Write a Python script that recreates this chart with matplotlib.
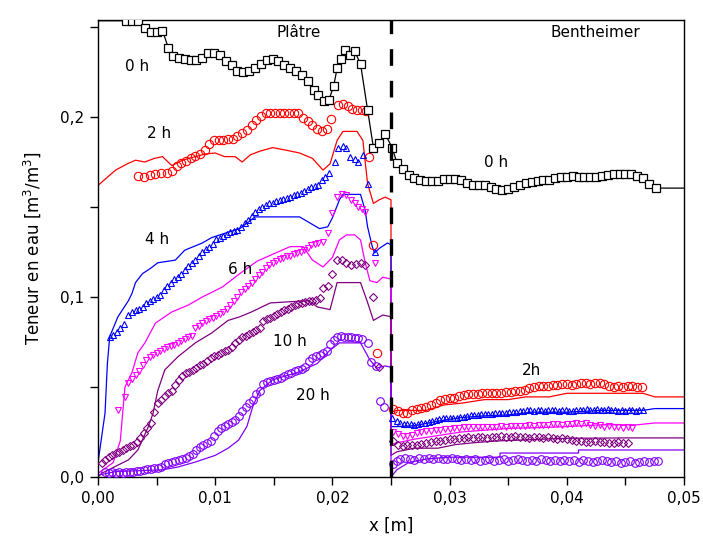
import numpy as np
import matplotlib
matplotlib.use('Agg')
import matplotlib.pyplot as plt
from matplotlib.ticker import FuncFormatter

# ---- 0 h (mesure) : carrés noirs, ligne reliant les points ----
x0 = [0.0000, 0.0024, 0.0029, 0.0034, 0.0040, 0.0045, 0.0050, 0.0055, 0.0060, 0.0064,
      0.0069, 0.0074, 0.0079, 0.0084, 0.0089, 0.0094, 0.0099, 0.0104, 0.0109, 0.0114,
      0.0119, 0.0124, 0.0129, 0.0134, 0.0139, 0.0144, 0.0149, 0.0154, 0.0159, 0.0164,
      0.0169, 0.0174, 0.0179, 0.0184, 0.0188, 0.0193, 0.0197, 0.0201, 0.0204, 0.0207,
      0.0211, 0.0215, 0.0219, 0.0224, 0.0230, 0.0235, 0.0240, 0.0245, 0.0251,
      0.0255, 0.0260, 0.0265, 0.0270, 0.0275, 0.0280, 0.0285, 0.0290, 0.0295, 0.0300,
      0.0305, 0.0310, 0.0315, 0.0320, 0.0325, 0.0330, 0.0335, 0.0340, 0.0345, 0.0350,
      0.0355, 0.0360, 0.0365, 0.0370, 0.0375, 0.0380, 0.0385, 0.0390, 0.0395, 0.0400,
      0.0405, 0.0410, 0.0415, 0.0420, 0.0425, 0.0430, 0.0435, 0.0440, 0.0445, 0.0450,
      0.0455, 0.0460, 0.0465, 0.0470, 0.0476, 0.0500]
y0 = [0.2535, 0.2535, 0.2535, 0.2535, 0.2495, 0.2475, 0.2475, 0.2480, 0.2385, 0.2340,
      0.2330, 0.2320, 0.2315, 0.2315, 0.2330, 0.2355, 0.2355, 0.2345, 0.2310, 0.2290,
      0.2255, 0.2250, 0.2255, 0.2270, 0.2295, 0.2315, 0.2320, 0.2310, 0.2290, 0.2275,
      0.2255, 0.2235, 0.2200, 0.2150, 0.2120, 0.2090, 0.2095, 0.2170, 0.2270, 0.2325,
      0.2370, 0.2345, 0.2365, 0.2295, 0.2040, 0.1830, 0.1855, 0.1905, 0.1830,
      0.1745, 0.1710, 0.1680, 0.1660, 0.1650, 0.1645, 0.1645, 0.1645, 0.1655, 0.1655,
      0.1655, 0.1650, 0.1635, 0.1625, 0.1620, 0.1620, 0.1610, 0.1600, 0.1595, 0.1600,
      0.1610, 0.1625, 0.1635, 0.1640, 0.1645, 0.1650, 0.1650, 0.1660, 0.1665, 0.1665,
      0.1670, 0.1665, 0.1665, 0.1665, 0.1665, 0.1670, 0.1680, 0.1685, 0.1685, 0.1685,
      0.1685, 0.1670, 0.1660, 0.1630, 0.1605, 0.1605]

# ---- 2 h : cercles rouges (mesure) + ligne rouge (simulation) ----
x2m = [0.0034, 0.0039, 0.0044, 0.0049, 0.0054, 0.0059, 0.0063, 0.0067, 0.0071, 0.0075,
       0.0079, 0.0083, 0.0087, 0.0091, 0.0095, 0.0099, 0.0103, 0.0107, 0.0111, 0.0115,
       0.0119, 0.0123, 0.0127, 0.0131, 0.0135, 0.0139, 0.0143, 0.0147, 0.0151, 0.0155,
       0.0159, 0.0163, 0.0167, 0.0171, 0.0175, 0.0179, 0.0183, 0.0187, 0.0191, 0.0195,
       0.0199, 0.0205, 0.0209, 0.0213, 0.0217, 0.0221, 0.0225, 0.0229, 0.0231, 0.0235,
       0.0238,
       0.0252, 0.0256, 0.0260, 0.0264, 0.0268, 0.0272, 0.0276, 0.0280, 0.0284, 0.0288,
       0.0292, 0.0296, 0.0300, 0.0304, 0.0308, 0.0312, 0.0316, 0.0320, 0.0324, 0.0328,
       0.0332, 0.0336, 0.0340, 0.0344, 0.0348, 0.0352, 0.0356, 0.0360, 0.0364, 0.0368,
       0.0372, 0.0376, 0.0380, 0.0384, 0.0388, 0.0392, 0.0396, 0.0400, 0.0404, 0.0408,
       0.0412, 0.0416, 0.0420, 0.0424, 0.0428, 0.0432, 0.0436, 0.0440, 0.0444, 0.0448,
       0.0452, 0.0456, 0.0460, 0.0464]
y2m = [0.1670, 0.1665, 0.1680, 0.1685, 0.1690, 0.1690, 0.1700, 0.1730, 0.1745, 0.1755,
       0.1770, 0.1785, 0.1795, 0.1815, 0.1850, 0.1870, 0.1875, 0.1875, 0.1880, 0.1880,
       0.1895, 0.1910, 0.1930, 0.1955, 0.1985, 0.2005, 0.2020, 0.2020, 0.2020, 0.2020,
       0.2020, 0.2020, 0.2020, 0.2025, 0.1995, 0.1980, 0.1955, 0.1935, 0.1925, 0.1935,
       0.1990, 0.2065, 0.2070, 0.2060, 0.2045, 0.2040, 0.2040, 0.2035, 0.1780, 0.1290,
       0.0690,
       0.0380, 0.0365, 0.0355, 0.0355, 0.0370, 0.0380, 0.0385, 0.0390, 0.0400, 0.0410,
       0.0425, 0.0435, 0.0440, 0.0440, 0.0450, 0.0455, 0.0460, 0.0460, 0.0460, 0.0465,
       0.0465, 0.0465, 0.0465, 0.0465, 0.0470, 0.0470, 0.0475, 0.0480, 0.0485, 0.0495,
       0.0500, 0.0505, 0.0505, 0.0505, 0.0510, 0.0510, 0.0515, 0.0515, 0.0510, 0.0515,
       0.0520, 0.0520, 0.0515, 0.0520, 0.0520, 0.0515, 0.0505, 0.0500, 0.0505, 0.0500,
       0.0505, 0.0505, 0.0500, 0.0500]
x2s = [0.0000, 0.0015, 0.0025, 0.0032, 0.0040, 0.0048, 0.0055, 0.0063, 0.0072, 0.0083,
       0.0092, 0.0100, 0.0108, 0.0117, 0.0123, 0.0130, 0.0138, 0.0149, 0.0161, 0.0172,
       0.0183, 0.0192, 0.0198, 0.0204, 0.0209, 0.0221, 0.0226, 0.0230, 0.0235, 0.0240,
       0.0245, 0.0250, 0.0250, 0.0255, 0.0280, 0.0295, 0.0310, 0.0330, 0.0350, 0.0365,
       0.0385, 0.0400, 0.0445, 0.0465, 0.0475, 0.0500]
y2s = [0.1620, 0.1705, 0.1740, 0.1760, 0.1750, 0.1770, 0.1780, 0.1730, 0.1760, 0.1780,
       0.1795, 0.1800, 0.1780, 0.1780, 0.1750, 0.1790, 0.1810, 0.1830, 0.1815, 0.1800,
       0.1770, 0.1705, 0.1740, 0.1870, 0.1920, 0.1920, 0.1870, 0.1630, 0.1520, 0.1540,
       0.1555, 0.1540, 0.0360, 0.0370, 0.0370, 0.0400, 0.0410, 0.0430, 0.0430, 0.0445,
       0.0445, 0.0465, 0.0465, 0.0465, 0.0445, 0.0445]

# ---- 4 h : triangles bleus + ligne bleue ----
x4m = [0.0010, 0.0013, 0.0016, 0.0019, 0.0022, 0.0026, 0.0029, 0.0032, 0.0035, 0.0038,
       0.0041, 0.0044, 0.0047, 0.0050, 0.0053, 0.0056, 0.0059, 0.0062, 0.0065, 0.0068,
       0.0071, 0.0074, 0.0077, 0.0080, 0.0083, 0.0086, 0.0089, 0.0092, 0.0095, 0.0098,
       0.0101, 0.0104, 0.0107, 0.0110, 0.0113, 0.0116, 0.0119, 0.0122, 0.0125, 0.0128,
       0.0131, 0.0134, 0.0137, 0.0140, 0.0143, 0.0146, 0.0149, 0.0152, 0.0155, 0.0158,
       0.0161, 0.0164, 0.0167, 0.0170, 0.0173, 0.0176, 0.0179, 0.0182, 0.0185, 0.0188,
       0.0191, 0.0194, 0.0197, 0.0202, 0.0205, 0.0209, 0.0212, 0.0215, 0.0219, 0.0222,
       0.0226, 0.0230, 0.0236,
       0.0251, 0.0255, 0.0258, 0.0261, 0.0264, 0.0267, 0.0270, 0.0273, 0.0276, 0.0279,
       0.0282, 0.0285, 0.0288, 0.0291, 0.0294, 0.0297, 0.0300, 0.0303, 0.0306, 0.0309,
       0.0312, 0.0315, 0.0318, 0.0321, 0.0324, 0.0327, 0.0330, 0.0333, 0.0336, 0.0339,
       0.0342, 0.0345, 0.0348, 0.0351, 0.0354, 0.0357, 0.0360, 0.0363, 0.0366, 0.0369,
       0.0372, 0.0375, 0.0378, 0.0381, 0.0384, 0.0387, 0.0390, 0.0393, 0.0396, 0.0399,
       0.0402, 0.0405, 0.0408, 0.0411, 0.0414, 0.0417, 0.0420, 0.0423, 0.0426, 0.0429,
       0.0432, 0.0435, 0.0438, 0.0441, 0.0444, 0.0447, 0.0450, 0.0453, 0.0456, 0.0459,
       0.0462, 0.0465]
y4m = [0.0780, 0.0790, 0.0805, 0.0830, 0.0850, 0.0900, 0.0915, 0.0925, 0.0935, 0.0945,
       0.0965, 0.0980, 0.0990, 0.1000, 0.1010, 0.1040, 0.1060, 0.1080, 0.1100, 0.1110,
       0.1130, 0.1150, 0.1170, 0.1190, 0.1205, 0.1230, 0.1250, 0.1265, 0.1280, 0.1295,
       0.1320, 0.1330, 0.1340, 0.1350, 0.1360, 0.1365, 0.1370, 0.1390, 0.1410, 0.1430,
       0.1450, 0.1470, 0.1490, 0.1500, 0.1510, 0.1520, 0.1525, 0.1535, 0.1540, 0.1545,
       0.1550, 0.1555, 0.1565, 0.1575, 0.1580, 0.1590, 0.1600, 0.1610, 0.1615, 0.1625,
       0.1650, 0.1665, 0.1690, 0.1750, 0.1830, 0.1840, 0.1830, 0.1780, 0.1765, 0.1750,
       0.1790, 0.1630, 0.1250,
       0.0330, 0.0310, 0.0300, 0.0295, 0.0295, 0.0295, 0.0290, 0.0295, 0.0300, 0.0300,
       0.0305, 0.0310, 0.0315, 0.0320, 0.0325, 0.0330, 0.0325, 0.0330, 0.0330, 0.0335,
       0.0335, 0.0340, 0.0345, 0.0345, 0.0345, 0.0350, 0.0350, 0.0350, 0.0350, 0.0355,
       0.0355, 0.0355, 0.0355, 0.0360, 0.0360, 0.0360, 0.0365, 0.0365, 0.0370, 0.0370,
       0.0365, 0.0370, 0.0370, 0.0365, 0.0370, 0.0370, 0.0370, 0.0365, 0.0370, 0.0370,
       0.0365, 0.0365, 0.0370, 0.0370, 0.0370, 0.0375, 0.0370, 0.0370, 0.0375, 0.0370,
       0.0370, 0.0375, 0.0370, 0.0370, 0.0365, 0.0370, 0.0365, 0.0370, 0.0370, 0.0365,
       0.0370, 0.0370]
x4s = [0.0000, 0.0006, 0.0008, 0.0010, 0.0017, 0.0026, 0.0029, 0.0032, 0.0038, 0.0045,
       0.0051, 0.0066, 0.0074, 0.0089, 0.0097, 0.0111, 0.0121, 0.0134, 0.0172, 0.0189,
       0.0196, 0.0200, 0.0206, 0.0209, 0.0224, 0.0228, 0.0230, 0.0234, 0.0236, 0.0240,
       0.0247, 0.0250, 0.0250, 0.0255, 0.0270, 0.0290, 0.0310, 0.0330, 0.0350, 0.0370,
       0.0400, 0.0430, 0.0465, 0.0475, 0.0500]
y4s = [0.0080, 0.0355, 0.0630, 0.0780, 0.0890, 0.0980, 0.1020, 0.1080, 0.1130, 0.1160,
       0.1190, 0.1205, 0.1260, 0.1300, 0.1330, 0.1360, 0.1380, 0.1445, 0.1445, 0.1380,
       0.1390, 0.1440, 0.1540, 0.1570, 0.1570, 0.1480, 0.1390, 0.1280, 0.1245, 0.1270,
       0.1300, 0.1290, 0.0280, 0.0280, 0.0285, 0.0310, 0.0330, 0.0340, 0.0345, 0.0360,
       0.0360, 0.0370, 0.0370, 0.0380, 0.0380]

# ---- 6 h : triangles magenta + ligne magenta ----
x6m = [0.0017, 0.0023, 0.0026, 0.0029, 0.0032, 0.0035, 0.0038, 0.0041, 0.0044, 0.0047,
       0.0050, 0.0053, 0.0056, 0.0059, 0.0062, 0.0065, 0.0068, 0.0071, 0.0074, 0.0077,
       0.0080, 0.0083, 0.0086, 0.0089, 0.0092, 0.0095, 0.0098, 0.0101, 0.0104, 0.0107,
       0.0110, 0.0113, 0.0116, 0.0119, 0.0122, 0.0125, 0.0128, 0.0131, 0.0134, 0.0137,
       0.0140, 0.0143, 0.0146, 0.0149, 0.0152, 0.0155, 0.0158, 0.0161, 0.0164, 0.0167,
       0.0170, 0.0173, 0.0176, 0.0179, 0.0182, 0.0185, 0.0188, 0.0192, 0.0196, 0.0200,
       0.0204, 0.0208, 0.0212, 0.0216, 0.0219, 0.0222, 0.0225, 0.0228, 0.0236,
       0.0252, 0.0256, 0.0260, 0.0264, 0.0268, 0.0272, 0.0276, 0.0280, 0.0284, 0.0288,
       0.0292, 0.0296, 0.0300, 0.0304, 0.0308, 0.0312, 0.0316, 0.0320, 0.0324, 0.0328,
       0.0332, 0.0336, 0.0340, 0.0344, 0.0348, 0.0352, 0.0356, 0.0360, 0.0364, 0.0368,
       0.0372, 0.0376, 0.0380, 0.0384, 0.0388, 0.0392, 0.0396, 0.0400, 0.0404, 0.0408,
       0.0412, 0.0416, 0.0420, 0.0424, 0.0428, 0.0432, 0.0436, 0.0440, 0.0444, 0.0448,
       0.0452, 0.0456]
y6m = [0.0370, 0.0445, 0.0520, 0.0545, 0.0565, 0.0590, 0.0620, 0.0650, 0.0665, 0.0680,
       0.0690, 0.0700, 0.0710, 0.0720, 0.0725, 0.0735, 0.0745, 0.0755, 0.0765, 0.0775,
       0.0785, 0.0825, 0.0840, 0.0855, 0.0865, 0.0875, 0.0885, 0.0895, 0.0905, 0.0915,
       0.0935, 0.0955, 0.0980, 0.1000, 0.1025, 0.1045, 0.1060, 0.1080, 0.1100, 0.1120,
       0.1140, 0.1160, 0.1175, 0.1190, 0.1200, 0.1210, 0.1215, 0.1225, 0.1230, 0.1240,
       0.1245, 0.1250, 0.1260, 0.1275, 0.1290, 0.1295, 0.1300, 0.1305, 0.1355, 0.1465,
       0.1555, 0.1570, 0.1565, 0.1540, 0.1520, 0.1500, 0.1490, 0.1470, 0.1190,
       0.0250, 0.0240, 0.0230, 0.0225, 0.0235, 0.0245, 0.0250, 0.0255, 0.0255, 0.0260,
       0.0260, 0.0265, 0.0265, 0.0270, 0.0270, 0.0275, 0.0275, 0.0280, 0.0280, 0.0280,
       0.0280, 0.0280, 0.0280, 0.0285, 0.0280, 0.0285, 0.0285, 0.0285, 0.0285, 0.0290,
       0.0285, 0.0290, 0.0290, 0.0290, 0.0295, 0.0295, 0.0290, 0.0295, 0.0295, 0.0300,
       0.0295, 0.0300, 0.0290, 0.0285, 0.0290, 0.0280, 0.0285, 0.0275, 0.0280, 0.0270,
       0.0275, 0.0270]
x6s = [0.0000, 0.0013, 0.0019, 0.0023, 0.0029, 0.0034, 0.0040, 0.0049, 0.0063, 0.0077,
       0.0089, 0.0106, 0.0115, 0.0121, 0.0136, 0.0150, 0.0164, 0.0175, 0.0183, 0.0192,
       0.0200, 0.0206, 0.0212, 0.0219, 0.0224, 0.0228, 0.0232, 0.0238, 0.0243, 0.0250,
       0.0250, 0.0255, 0.0270, 0.0290, 0.0310, 0.0330, 0.0350, 0.0380, 0.0400, 0.0430,
       0.0460, 0.0475, 0.0500]
y6s = [0.0020, 0.0080, 0.0200, 0.0500, 0.0580, 0.0690, 0.0745, 0.0855, 0.0917, 0.0955,
       0.1000, 0.1055, 0.1100, 0.1130, 0.1200, 0.1240, 0.1280, 0.1280, 0.1205, 0.1167,
       0.1220, 0.1317, 0.1345, 0.1345, 0.1317, 0.1190, 0.1090, 0.1080, 0.1110, 0.1100,
       0.0180, 0.0190, 0.0210, 0.0230, 0.0250, 0.0260, 0.0270, 0.0275, 0.0280, 0.0290,
       0.0290, 0.0300, 0.0300]

# ---- 10 h : losanges violet foncé + ligne ----
x10m = [0.0003, 0.0006, 0.0009, 0.0012, 0.0015, 0.0018, 0.0021, 0.0024, 0.0027, 0.0030,
        0.0033, 0.0036, 0.0039, 0.0042, 0.0045, 0.0048, 0.0051, 0.0054, 0.0057, 0.0060,
        0.0063, 0.0066, 0.0069, 0.0072, 0.0075, 0.0078, 0.0081, 0.0084, 0.0087, 0.0090,
        0.0093, 0.0096, 0.0099, 0.0102, 0.0105, 0.0108, 0.0111, 0.0114, 0.0117, 0.0120,
        0.0123, 0.0126, 0.0129, 0.0132, 0.0135, 0.0138, 0.0141, 0.0144, 0.0147, 0.0150,
        0.0153, 0.0156, 0.0159, 0.0162, 0.0165, 0.0168, 0.0171, 0.0174, 0.0177, 0.0180,
        0.0183, 0.0186, 0.0189, 0.0192, 0.0196, 0.0200, 0.0204, 0.0208, 0.0212, 0.0216,
        0.0220, 0.0224, 0.0228, 0.0235, 0.0240,
        0.0252, 0.0256, 0.0260, 0.0264, 0.0268, 0.0272, 0.0276, 0.0280, 0.0284, 0.0288,
        0.0292, 0.0296, 0.0300, 0.0304, 0.0308, 0.0312, 0.0316, 0.0320, 0.0324, 0.0328,
        0.0332, 0.0336, 0.0340, 0.0344, 0.0348, 0.0352, 0.0356, 0.0360, 0.0364, 0.0368,
        0.0372, 0.0376, 0.0380, 0.0384, 0.0388, 0.0392, 0.0396, 0.0400, 0.0404, 0.0408,
        0.0412, 0.0416, 0.0420, 0.0424, 0.0428, 0.0432, 0.0436, 0.0440, 0.0444, 0.0448,
        0.0452]
y10m = [0.0080, 0.0095, 0.0110, 0.0120, 0.0133, 0.0140, 0.0150, 0.0160, 0.0170, 0.0180,
        0.0195, 0.0215, 0.0245, 0.0270, 0.0300, 0.0360, 0.0410, 0.0430, 0.0450, 0.0465,
        0.0480, 0.0510, 0.0540, 0.0560, 0.0575, 0.0585, 0.0595, 0.0605, 0.0620, 0.0630,
        0.0645, 0.0660, 0.0670, 0.0680, 0.0690, 0.0700, 0.0705, 0.0720, 0.0745, 0.0760,
        0.0775, 0.0785, 0.0795, 0.0805, 0.0815, 0.0830, 0.0865, 0.0875, 0.0885, 0.0895,
        0.0905, 0.0915, 0.0925, 0.0935, 0.0945, 0.0955, 0.0960, 0.0965, 0.0970, 0.0975,
        0.0980, 0.0985, 0.0995, 0.1050, 0.1060, 0.1130, 0.1205, 0.1205, 0.1190, 0.1180,
        0.1185, 0.1190, 0.1180, 0.1000, 0.0610,
        0.0200, 0.0180, 0.0170, 0.0175, 0.0180, 0.0180, 0.0185, 0.0190, 0.0195, 0.0200,
        0.0200, 0.0205, 0.0210, 0.0210, 0.0215, 0.0215, 0.0220, 0.0215, 0.0220, 0.0220,
        0.0215, 0.0220, 0.0220, 0.0225, 0.0220, 0.0220, 0.0225, 0.0220, 0.0220, 0.0215,
        0.0220, 0.0220, 0.0215, 0.0220, 0.0215, 0.0210, 0.0215, 0.0210, 0.0205, 0.0200,
        0.0200, 0.0195, 0.0195, 0.0200, 0.0195, 0.0195, 0.0190, 0.0190, 0.0195, 0.0190,
        0.0190]
x10s = [0.0000, 0.0003, 0.0026, 0.0034, 0.0043, 0.0047, 0.0051, 0.0057, 0.0068, 0.0083,
        0.0097, 0.0111, 0.0121, 0.0131, 0.0147, 0.0180, 0.0187, 0.0198, 0.0204, 0.0210,
        0.0224, 0.0230, 0.0235, 0.0243, 0.0250, 0.0250, 0.0255, 0.0270, 0.0290, 0.0305,
        0.0320, 0.0340, 0.0360, 0.0400, 0.0450, 0.0500]
y10s = [0.0000, 0.0020, 0.0095, 0.0150, 0.0280, 0.0355, 0.0480, 0.0595, 0.0667, 0.0745,
        0.0800, 0.0870, 0.0890, 0.0917, 0.0967, 0.0980, 0.0945, 0.0930, 0.1080, 0.1080,
        0.1080, 0.0970, 0.0870, 0.0900, 0.0890, 0.0120, 0.0140, 0.0160, 0.0160, 0.0180,
        0.0190, 0.0200, 0.0205, 0.0215, 0.0217, 0.0217]

# ---- 20 h : cercles violets + ligne ----
x20m = [0.0006, 0.0009, 0.0012, 0.0015, 0.0018, 0.0021, 0.0024, 0.0027, 0.0030, 0.0033,
        0.0036, 0.0039, 0.0042, 0.0045, 0.0048, 0.0051, 0.0054, 0.0057, 0.0060, 0.0063,
        0.0066, 0.0069, 0.0072, 0.0075, 0.0078, 0.0081, 0.0084, 0.0087, 0.0090, 0.0093,
        0.0096, 0.0099, 0.0102, 0.0105, 0.0108, 0.0111, 0.0114, 0.0117, 0.0120, 0.0123,
        0.0126, 0.0129, 0.0132, 0.0135, 0.0138, 0.0141, 0.0144, 0.0147, 0.0150, 0.0153,
        0.0156, 0.0159, 0.0162, 0.0165, 0.0168, 0.0171, 0.0174, 0.0177, 0.0180, 0.0183,
        0.0186, 0.0189, 0.0192, 0.0195, 0.0198, 0.0201, 0.0204, 0.0207, 0.0210, 0.0213,
        0.0216, 0.0219, 0.0222, 0.0225, 0.0230, 0.0233, 0.0237, 0.0241, 0.0244,
        0.0252, 0.0255, 0.0258, 0.0262, 0.0266, 0.0270, 0.0274, 0.0278, 0.0282, 0.0286,
        0.0290, 0.0294, 0.0298, 0.0302, 0.0306, 0.0310, 0.0314, 0.0318, 0.0322, 0.0326,
        0.0330, 0.0334, 0.0338, 0.0342, 0.0346, 0.0350, 0.0354, 0.0358, 0.0362, 0.0366,
        0.0370, 0.0374, 0.0378, 0.0382, 0.0386, 0.0390, 0.0394, 0.0398, 0.0402, 0.0406,
        0.0410, 0.0414, 0.0418, 0.0422, 0.0426, 0.0430, 0.0434, 0.0438, 0.0442, 0.0446,
        0.0450, 0.0454, 0.0458, 0.0462, 0.0466, 0.0470, 0.0474, 0.0478]
y20m = [0.0025, 0.0020, 0.0025, 0.0020, 0.0025, 0.0020, 0.0025, 0.0025, 0.0030, 0.0035,
        0.0035, 0.0040, 0.0045, 0.0045, 0.0050, 0.0050, 0.0055, 0.0070, 0.0080, 0.0085,
        0.0090, 0.0095, 0.0100, 0.0105, 0.0115, 0.0130, 0.0150, 0.0165, 0.0180, 0.0190,
        0.0200, 0.0225, 0.0255, 0.0270, 0.0285, 0.0295, 0.0305, 0.0315, 0.0340, 0.0365,
        0.0390, 0.0410, 0.0430, 0.0460, 0.0480, 0.0515, 0.0525, 0.0535, 0.0540, 0.0545,
        0.0550, 0.0560, 0.0570, 0.0580, 0.0590, 0.0595, 0.0600, 0.0610, 0.0645, 0.0660,
        0.0670, 0.0680, 0.0690, 0.0700, 0.0740, 0.0760, 0.0780, 0.0785, 0.0780, 0.0775,
        0.0775, 0.0770, 0.0770, 0.0765, 0.0745, 0.0640, 0.0615, 0.0420, 0.0390,
        0.0070, 0.0090, 0.0100, 0.0105, 0.0100, 0.0095, 0.0105, 0.0100, 0.0105, 0.0100,
        0.0105, 0.0100, 0.0100, 0.0105, 0.0100, 0.0095, 0.0100, 0.0095, 0.0100, 0.0090,
        0.0095, 0.0100, 0.0090, 0.0095, 0.0100, 0.0090, 0.0095, 0.0100, 0.0095, 0.0090,
        0.0095, 0.0090, 0.0100, 0.0095, 0.0090, 0.0095, 0.0090, 0.0095, 0.0090, 0.0095,
        0.0085, 0.0095, 0.0090, 0.0085, 0.0090, 0.0095, 0.0090, 0.0085, 0.0090, 0.0080,
        0.0085, 0.0090, 0.0080, 0.0085, 0.0090, 0.0085, 0.0090, 0.0090]
x20s = [0.0000, 0.0015, 0.0055, 0.0068, 0.0083, 0.0100, 0.0111, 0.0120, 0.0127, 0.0132,
        0.0138, 0.0149, 0.0170, 0.0187, 0.0198, 0.0206, 0.0224, 0.0232, 0.0238, 0.0245,
        0.0250, 0.0250, 0.0255, 0.0265, 0.0280, 0.0300, 0.0343, 0.0343, 0.0410, 0.0410,
        0.0500]
y20s = [0.0010, 0.0030, 0.0040, 0.0055, 0.0083, 0.0120, 0.0160, 0.0205, 0.0280, 0.0390,
        0.0480, 0.0540, 0.0580, 0.0630, 0.0705, 0.0745, 0.0745, 0.0650, 0.0605, 0.0617,
        0.0610, 0.0000, 0.0040, 0.0080, 0.0100, 0.0110, 0.0110, 0.0133, 0.0133, 0.0150,
        0.0150]

# étiquettes de courbes (texte, x, y)
labels = [('0 h', 0.0033, 0.228), ('2 h', 0.0052, 0.191), ('4 h', 0.0050, 0.1317),
          ('6 h', 0.0121, 0.115), ('10 h', 0.0164, 0.075), ('20 h', 0.0183, 0.0455),
          ('0 h', 0.0340, 0.1745), ('2h', 0.0370, 0.059)]

fig = plt.figure(figsize=(7.03, 5.48), dpi=100)
ax = fig.add_axes([0.1394, 0.1296, 0.8336, 0.8339])

lw = 0.9
mew = 0.8
# 0 h
ax.plot(x0, y0, color='black', lw=lw, zorder=3)
ax.plot(x0[1:-1], y0[1:-1], 's', ms=5.5, mec='black', mfc='white', mew=0.9, zorder=4)
# simulations (lignes)
ax.plot(x2s, y2s, color='#FF0000', lw=lw, zorder=2)
ax.plot(x4s, y4s, color='#0000FF', lw=lw, zorder=2)
ax.plot(x6s, y6s, color='#FF00FF', lw=lw, zorder=2)
ax.plot(x10s, y10s, color='#800080', lw=lw, zorder=2)
ax.plot(x20s, y20s, color='#8000FF', lw=lw, zorder=2)
# mesures (symboles)
ax.plot(x2m, y2m, 'o', ms=6, mec='#FF0000', mfc='none', mew=mew, zorder=3)
ax.plot(x4m, y4m, '^', ms=5, mec='#0000FF', mfc='none', mew=mew, zorder=3)
ax.plot(x6m, y6m, 'v', ms=5, mec='#FF00FF', mfc='none', mew=mew, zorder=3)
ax.plot(x10m, y10m, 'D', ms=3.8, mec='#800080', mfc='none', mew=mew, zorder=3)
ax.plot(x20m, y20m, 'o', ms=5.5, mec='#8000FF', mfc='none', mew=mew, zorder=3)

# interface plâtre / Bentheimer
ax.axvline(0.025, color='black', lw=2.4, ls=(0, (5, 4.5)), zorder=5)

for txt, tx, ty in labels:
    ax.text(tx, ty, txt, fontsize=11, ha='center', va='center')
ax.text(0.0171, 0.247, 'Plâtre', fontsize=11, ha='center', va='center')
ax.text(0.0424, 0.247, 'Bentheimer', fontsize=11, ha='center', va='center')

ax.set_xlim(0, 0.05)
ax.set_ylim(0, 0.2539)
ax.set_xticks([0.0, 0.01, 0.02, 0.03, 0.04, 0.05])
ax.set_xticks([0.005, 0.015, 0.025, 0.035, 0.045], minor=True)
ax.set_yticks([0.0, 0.1, 0.2])
ax.set_yticks([0.05, 0.15, 0.25], minor=True)
ax.xaxis.set_major_formatter(FuncFormatter(lambda v, p: ('%.2f' % v).replace('.', ',')))
ax.yaxis.set_major_formatter(FuncFormatter(lambda v, p: ('%.1f' % v).replace('.', ',')))
ax.tick_params(which='both', direction='out', length=6, width=1.0, labelsize=11, pad=4)
for s in ax.spines.values():
    s.set_linewidth(1.0)

ax.set_xlabel('x [m]', fontsize=12, labelpad=8)
ax.set_ylabel('Teneur en eau [m$^3$/m$^3$]', fontsize=12, labelpad=12)

fig.savefig('out.png', dpi=100)
